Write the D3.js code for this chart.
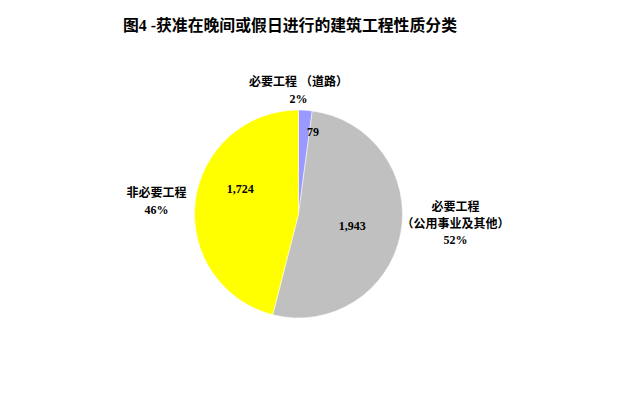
<!DOCTYPE html>
<html><head><meta charset="utf-8">
<script src="https://cdn.jsdelivr.net/npm/d3@7"></script>
<style>
html,body{margin:0;padding:0;background:#fff;}
text{font-family:"Liberation Serif","Noto Sans CJK SC",serif;font-weight:bold;fill:#000;}
</style></head>
<body>
<svg id="c" width="617" height="400"></svg>
<script>
const title = "图4 -获准在晚间或假日进行的建筑工程性质分类";
const categories = ["必要工程 （道路）", "必要工程（公用事业及其他）", "非必要工程"];
const values = [79, 1943, 1724];
const valueLabels = ["79", "1,943", "1,724"];
const percentLabels = ["2%", "52%", "46%"];
const colors = ["#9999FF", "#C0C0C0", "#FFFF00"];

const svg = d3.select("#c");
const cx = 298.5, cy = 214, R = 104;

svg.append("text").attr("x", 123).attr("y", 31).attr("font-size", 16)
  .attr("textLength", 334).attr("lengthAdjust","spacingAndGlyphs").text(title);

const pie = d3.pie().sort(null).value(d => d)(values);
const arc = d3.arc().innerRadius(0).outerRadius(R);
const g = svg.append("g").attr("transform", `translate(${cx},${cy})`);
g.selectAll("path").data(pie).enter().append("path")
  .attr("d", arc).attr("fill", (d,i) => colors[i])
  .attr("stroke", "#fff").attr("stroke-width", 0.5);

// value labels inside slices: radius factor and angle nudge (layout)
const inner = [{r:0.80, da:0.11}, {r:0.53, da:0.03}, {r:0.61, da:0.28}];
g.selectAll("text.v").data(pie).enter().append("text").attr("class","v")
  .attr("font-size", 12).attr("text-anchor","middle").attr("dominant-baseline","central")
  .attr("x", (d,i) => Math.sin((d.startAngle+d.endAngle)/2 + inner[i].da) * R * inner[i].r)
  .attr("y", (d,i) => -Math.cos((d.startAngle+d.endAngle)/2 + inner[i].da) * R * inner[i].r)
  .text((d,i) => valueLabels[i]);

// outside category labels (layout positions relative to centre)
const outer = [
  {x: 0, y: -132, lines: [categories[0]]},
  {x: 157, y: -7, lines: ["必要工程", "（公用事业及其他）"]},
  {x: -142, y: -21, lines: [categories[2]]}
];
outer.forEach((o, i) => {
  const lines = o.lines.concat([percentLabels[i]]);
  lines.forEach((ln, k) => {
    g.append("text").attr("font-size", 12).attr("text-anchor","middle")
      .attr("dominant-baseline","central")
      .attr("x", o.x).attr("y", o.y + k*16.5).text(ln);
  });
});
</script>
</body></html>
